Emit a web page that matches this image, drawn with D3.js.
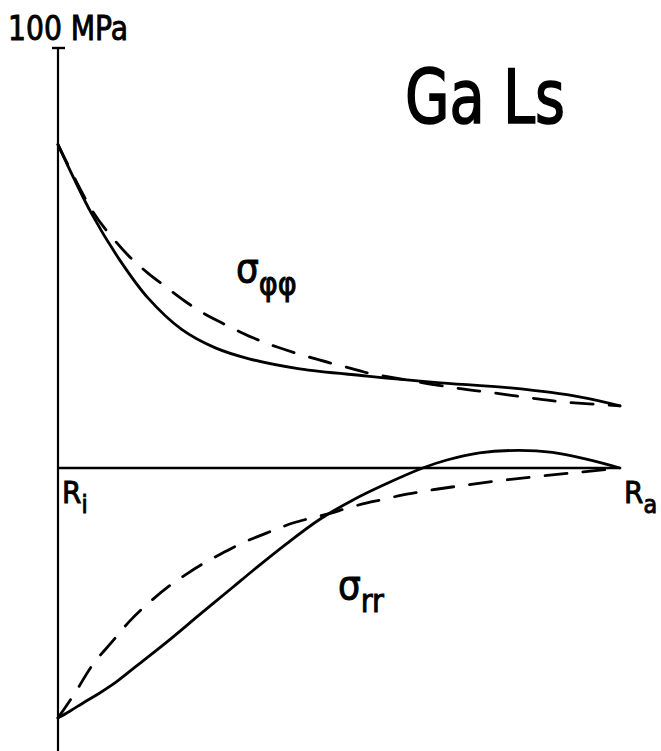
<!DOCTYPE html>
<html>
<head>
<meta charset="utf-8">
<script src="https://cdn.jsdelivr.net/npm/d3@7"></script>
<style>
  html, body { margin: 0; padding: 0; background: #fff; }
  text { font-family: "DejaVu Sans Condensed", "DejaVu Sans", sans-serif; fill: #000; stroke: #000; stroke-width: 0.9; }
</style>
</head>
<body>
<div id="chart"></div>
<script>
// normalised radius, 0 = Ri, 1 = Ra ; stresses in MPa
const rPhiSolid = [0, 0.06, 0.11, 0.16, 0.22, 0.28, 0.34, 0.43, 0.55, 0.67, 0.81, 0.93, 1]
const phiSolid  = [77, 60.5, 49.5, 40.5, 33, 28.6, 26, 23.6, 21.9, 20.4, 19, 16.9, 14.8]

const rPhiDash = [0, 0.062, 0.096, 0.128, 0.16, 0.194, 0.226, 0.258, 0.292, 0.324, 0.356, 0.39, 0.452, 0.516, 0.546, 0.609, 0.71, 0.774, 0.84, 0.902, 1]
const phiDash  = [77, 61, 55, 50.2, 46.4, 42.9, 39.7, 36.9, 34.5, 32.4, 30.5, 28.8, 26.2, 23.9, 22.8, 21.2, 19, 17.9, 16.7, 15.7, 14.8]

const rRrSolid = [0, 0.021, 0.044, 0.075, 0.105, 0.141, 0.194, 0.253, 0.311, 0.347, 0.407, 0.466, 0.525, 0.585, 0.649, 0.692, 0.75, 0.82, 0.88, 0.94, 1]
const rrSolid  = [-59.5, -57.9, -56, -53.5, -50.8, -47, -41.4, -34.8, -28.4, -24.4, -18, -12.2, -7.6, -3.7, 0, 1.9, 3.6, 4.2, 3.7, 2.1, 0]

const rRrDash = [0, 0.03, 0.062, 0.096, 0.128, 0.16, 0.194, 0.226, 0.258, 0.292, 0.324, 0.354, 0.39, 0.418, 0.454, 0.484, 0.516, 0.55, 0.578, 0.614, 0.644, 0.676, 0.799, 0.84, 0.906, 0.935, 1]
const rrDash  = [-59.5, -53.6, -46.8, -41.4, -36.4, -32.3, -28.5, -25.5, -22.8, -20.3, -18.1, -16.4, -14.5, -13.1, -11.8, -10.8, -9.5, -8.3, -7.5, -6.4, -5.7, -5, -2.8, -2.2, -1.3, -0.9, 0]

const tickValues = [100]
const tickLabels = ['100 MPa']

const width = 661
const height = 751

const x = d3.scaleLinear().domain([0, 1]).range([58, 620])
const y = d3.scaleLinear().domain([0, 100]).range([468, 48])

const svg = d3.select('#chart')
    .append('svg')
    .attr('width', width)
    .attr('height', height)

// axes
svg.append('line')
    .attr('x1', x(0)).attr('x2', x(0))
    .attr('y1', y(100)).attr('y2', height)
    .style('stroke', '#000').style('stroke-width', 2.2)

svg.append('line')
    .attr('x1', x(0)).attr('x2', x(1))
    .attr('y1', y(0)).attr('y2', y(0))
    .style('stroke', '#000').style('stroke-width', 2.4)

svg.selectAll('line.tick')
    .data(tickValues)
    .enter()
    .append('line')
    .classed('tick', true)
    .attr('x1', x(0) - 6).attr('x2', x(0) + 7)
    .attr('y1', d => y(d)).attr('y2', d => y(d))
    .style('stroke', '#000').style('stroke-width', 2.4)

svg.selectAll('text.ticklabel')
    .data(tickLabels)
    .enter()
    .append('text')
    .classed('ticklabel', true)
    .attr('x', 8)
    .attr('y', 40)
    .attr('font-size', 33)
    .attr('textLength', 120)
    .attr('lengthAdjust', 'spacingAndGlyphs')
    .text(d => d)

// curves
const line = d3.line()
    .x(d => x(d[0]))
    .y(d => y(d[1]))
    .curve(d3.curveCatmullRom.alpha(0.5))

const series = [
    {r: rPhiSolid, v: phiSolid, dash: null},
    {r: rPhiDash, v: phiDash, dash: '22 16'},
    {r: rRrSolid, v: rrSolid, dash: null},
    {r: rRrDash, v: rrDash, dash: '22 16'}
]

svg.selectAll('path.curve')
    .data(series)
    .enter()
    .append('path')
    .classed('curve', true)
    .attr('d', d => line(d.r.map((r, i) => [r, d.v[i]])))
    .style('fill', 'none')
    .style('stroke', '#000')
    .style('stroke-width', 2.8)
    .style('stroke-linecap', 'round')
    .style('stroke-dasharray', d => d.dash)

// labels
svg.append('text')
    .attr('x', 405).attr('y', 123)
    .attr('font-size', 74)
    .attr('textLength', 160)
    .attr('lengthAdjust', 'spacingAndGlyphs')
    .style('stroke-width', 1.6)
    .text('Ga Ls')

const sub = (tx, ty, main, subs, size) => {
    const t = svg.append('text').attr('x', tx).attr('y', ty).attr('font-size', size)
    t.append('tspan').text(main)
    t.append('tspan').attr('dy', size * 0.32).attr('font-size', size * 0.8).text(subs)
}

sub(62, 503, 'R', 'i', 31)
sub(624, 503, 'R', 'a', 31)
sub(236, 282, 'σ', 'φφ', 40)
sub(338, 599, 'σ', 'rr', 40)
</script>
</body>
</html>
